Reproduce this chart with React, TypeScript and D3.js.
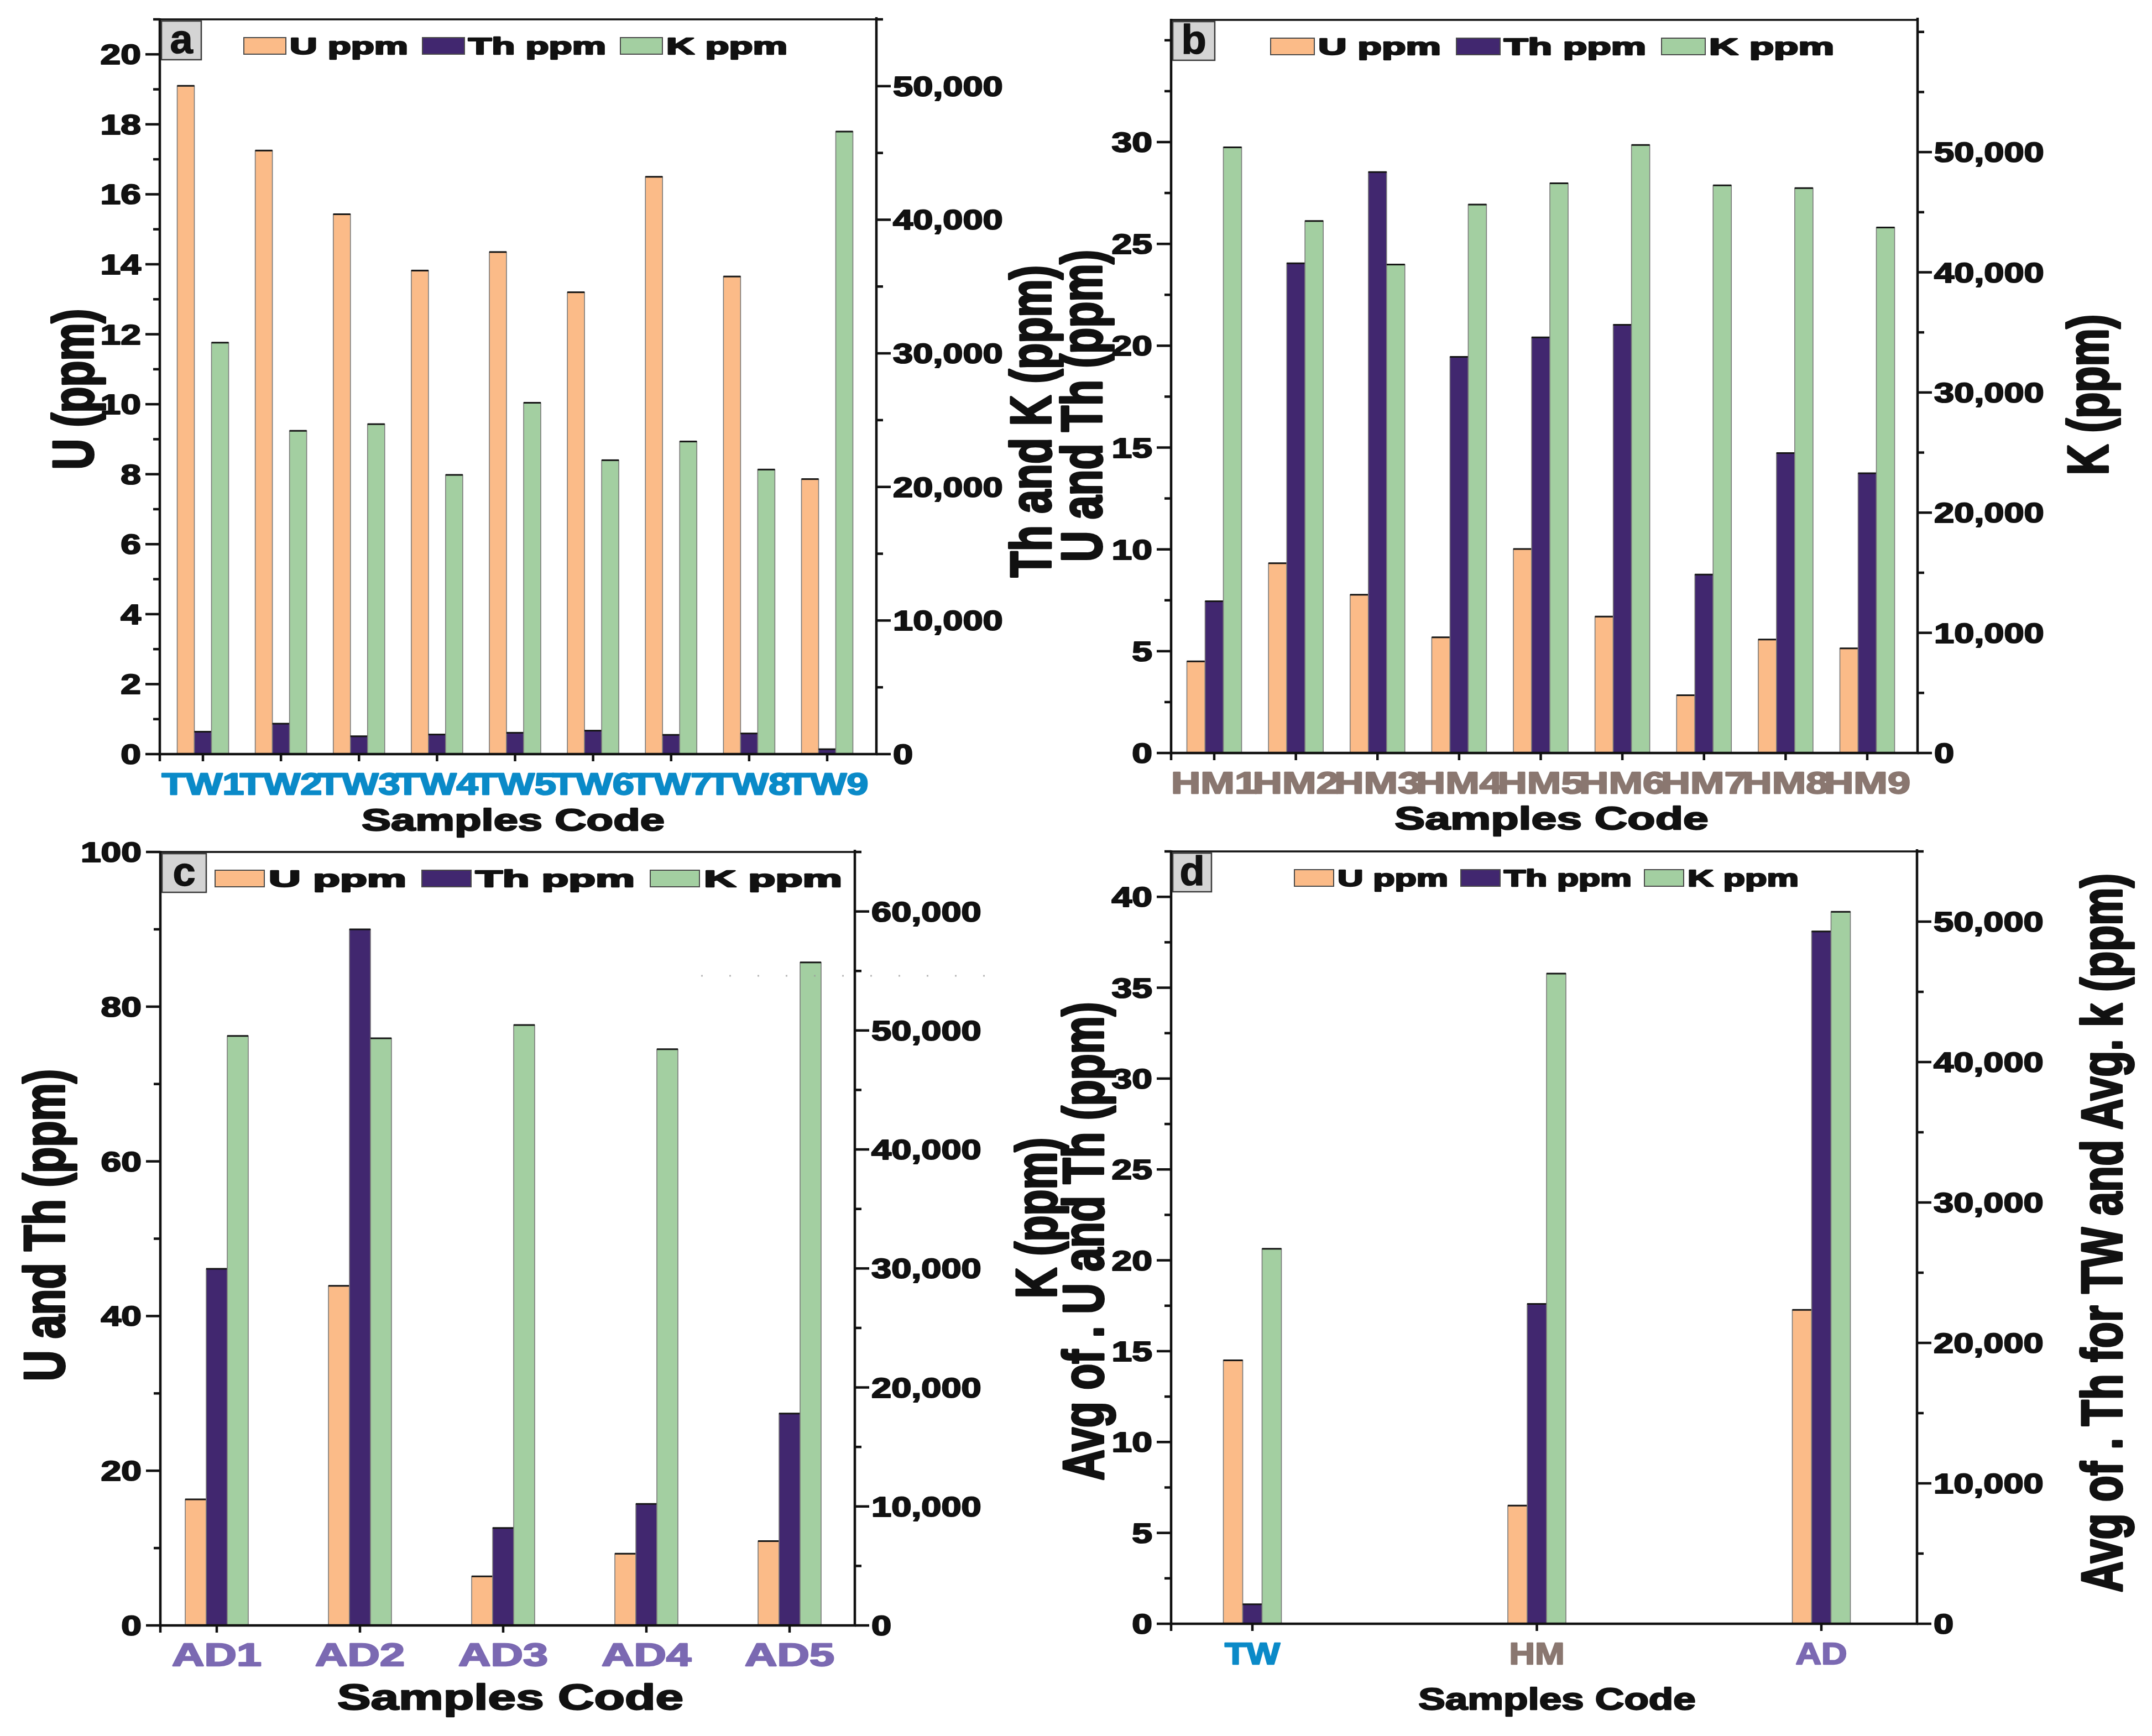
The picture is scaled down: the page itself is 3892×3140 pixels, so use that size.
import * as d3 from "d3";

// ---- data ----
const twCodes = ["TW1", "TW2", "TW3", "TW4", "TW5", "TW6", "TW7", "TW8", "TW9"];
const twU = [19.1, 17.25, 15.43, 13.82, 14.35, 13.2, 16.5, 13.65, 7.86];
const twTh = [0.64, 0.87, 0.51, 0.56, 0.61, 0.67, 0.55, 0.59, 0.14];
const twK = [30800, 24200, 24700, 20900, 26300, 22000, 23400, 21300, 46600];

const hmCodes = ["HM1", "HM2", "HM3", "HM4", "HM5", "HM6", "HM7", "HM8", "HM9"];
const hmU = [4.5, 9.32, 7.77, 5.68, 10.02, 6.7, 2.84, 5.57, 5.14];
const hmTh = [7.45, 24.05, 28.53, 19.45, 20.41, 21.03, 8.76, 14.73, 13.74];
const hmK = [50400, 44270, 40640, 45640, 47410, 50590, 47230, 47000, 43730];

const adCodes = ["AD1", "AD2", "AD3", "AD4", "AD5"];
const adU = [16.3, 43.9, 6.35, 9.27, 10.9];
const adTh = [46.1, 90.0, 12.6, 15.7, 27.4];
const adK = [49540, 49340, 50460, 48420, 55720];

const avgCodes = ["TW", "HM", "AD"];
const avgU = [14.5, 6.5, 17.27];
const avgTh = [1.07, 17.6, 38.1];
const avgK = [26700, 46300, 50700];

const aLeftTicks = [0, 2, 4, 6, 8, 10, 12, 14, 16, 18, 20];
const bLeftTicks = [0, 5, 10, 15, 20, 25, 30];
const cLeftTicks = [0, 20, 40, 60, 80, 100];
const dLeftTicks = [0, 5, 10, 15, 20, 25, 30, 35, 40];
const kTicks50 = [0, 10000, 20000, 30000, 40000, 50000];
const kTicks60 = [0, 10000, 20000, 30000, 40000, 50000, 60000];

const seriesNames = ["U ppm", "Th ppm", "K ppm"];

const U_COLOR = "#fbbb88";
const TH_COLOR = "#41276f";
const K_COLOR = "#a3cfa1";
const COLORS = [U_COLOR, TH_COLOR, K_COLOR];

const FONT = "'Liberation Sans', Arial, Helvetica, sans-serif";
const INK = "#111";

type Legend = { x: number; sw: number; tw: number[]; g1: number; g2: number };

interface PanelCfg {
  letter: string;
  box: number;
  left: number;
  right: number;
  top: number;
  bottom: number;
  padL: number;
  padR: number;
  barW: number;
  cats: string[];
  u: number[];
  th: number[];
  k: number[];
  leftDomain: [number, number];
  rightDomain: [number, number];
  leftTicks: number[];
  leftMinor: number[];
  rightTicks: number[];
  rightMinor: number[];
  catColor: string;
  catSize: number;
  catSx: number;
  titleX: number;
  titleDy: number;
  titleSize: number;
  titleSx: number;
  legend: Legend;
}

const panels: PanelCfg[] = [
  {
    letter: "a", box: 72,
    left: 289, right: 1585, top: 35, bottom: 1364, padL: 78, padR: 89, barW: 31,
    cats: twCodes, u: twU, th: twTh, k: twK,
    leftDomain: [0, 21], rightDomain: [0, 55000],
    leftTicks: aLeftTicks, leftMinor: d3.range(1, 22, 2),
    rightTicks: kTicks50, rightMinor: d3.range(5000, 55001, 10000),
    catColor: "#0a8ac8", catSize: 56, catSx: 1.26,
    titleX: 928, titleDy: 138, titleSize: 56, titleSx: 1.42,
    legend: { x: 441, sw: 76, tw: [214, 249, 219], g1: 7, g2: 26 },
  },
  {
    letter: "b", box: 76,
    left: 2118, right: 3468, top: 36, bottom: 1362, padL: 78, padR: 91, barW: 33,
    cats: hmCodes, u: hmU, th: hmTh, k: hmK,
    leftDomain: [0, 36], rightDomain: [0, 61000],
    leftTicks: bLeftTicks, leftMinor: [...d3.range(2.5, 35, 5), 35],
    rightTicks: kTicks50, rightMinor: [...d3.range(5000, 55001, 10000), 60000],
    catColor: "#8a7770", catSize: 56, catSx: 1.32,
    titleX: 2806, titleDy: 138, titleSize: 58, titleSx: 1.42,
    legend: { x: 2298, sw: 79, tw: [222, 257, 226], g1: 7, g2: 28 },
  },
  {
    letter: "c", box: 80,
    left: 290, right: 1546, top: 1541, bottom: 2940, padL: 102, padR: 118, barW: 38,
    cats: adCodes, u: adU, th: adTh, k: adK,
    leftDomain: [0, 100], rightDomain: [0, 65000],
    leftTicks: cLeftTicks, leftMinor: d3.range(10, 100, 20),
    rightTicks: kTicks60, rightMinor: d3.range(5000, 65001, 10000),
    catColor: "#7b69b2", catSize: 57, catSx: 1.42,
    titleX: 923, titleDy: 152, titleSize: 64, titleSx: 1.42,
    legend: { x: 389, sw: 89, tw: [249, 288, 250], g1: 8, g2: 28 },
  },
  {
    letter: "d", box: 70,
    left: 2118, right: 3467, top: 1540, bottom: 2937, padL: 147, padR: 173, barW: 35,
    cats: avgCodes, u: avgU, th: avgTh, k: avgK,
    leftDomain: [0, 42.5], rightDomain: [0, 55000],
    leftTicks: dLeftTicks, leftMinor: d3.range(2.5, 43, 5),
    rightTicks: kTicks50, rightMinor: d3.range(5000, 55001, 10000),
    catColor: "#8a7770", catSize: 56, catSx: 1.15,
    titleX: 2816, titleDy: 155, titleSize: 56, titleSx: 1.3,
    legend: { x: 2341, sw: 71, tw: [200, 231, 201], g1: 7, g2: 23 },
  },
];

// the average panel colours each group label like its source panel
const avgLabelColors = ["#0a8ac8", "#8a7770", "#7b69b2"];

const yTitles = [
  { text: "U (ppm)", x: 130, y: 704 },
  { text: "Th and K (ppm)", x: 1862, y: 762 },
  { text: "U and Th (ppm)", x: 1954, y: 734 },
  { text: "K (ppm)", x: 3774, y: 714 },
  { text: "U and Th (ppm)", x: 78, y: 2216 },
  { text: "K (ppm)", x: 1872, y: 2203 },
  { text: "Avg of . U and Th (ppm)", x: 1957, y: 2245 },
  { text: "Avg of . Th for TW and Avg. k (ppm)", x: 3799, y: 2230 },
];

const fmtK = d3.format(",");

// the figure's type is heavier than Liberation Sans Bold, so strokes thicken it
const heavy = (color: string, w: number) => ({
  fill: color,
  stroke: color,
  strokeWidth: w,
  strokeLinejoin: "round" as const,
  paintOrder: "stroke",
});

function Panel({ cfg }: { cfg: PanelCfg }) {
  const x = d3
    .scalePoint<string>()
    .domain(cfg.cats)
    .range([cfg.left + cfg.padL, cfg.right - cfg.padR]);
  const yL = d3.scaleLinear().domain(cfg.leftDomain).range([cfg.bottom, cfg.top]);
  const yR = d3.scaleLinear().domain(cfg.rightDomain).range([cfg.bottom, cfg.top]);

  const series = [
    { values: cfg.u, scale: yL },
    { values: cfg.th, scale: yL },
    { values: cfg.k, scale: yR },
  ];

  const tickW = 4.5;
  const major = 26;
  const minor = 12;

  // legend layout
  const lg = cfg.legend;
  let cursor = lg.x;
  const legendItems = seriesNames.map((name, i) => {
    const sx = cursor;
    const tx = sx + lg.sw + lg.g1;
    cursor = tx + lg.tw[i] + lg.g2;
    return { name, sx, tx, tw: lg.tw[i], color: COLORS[i] };
  });

  return (
    <g>
      {/* bars */}
      {series.map((s, si) =>
        cfg.cats.map((c, ci) => {
          const cx = x(c)!;
          const bx = cx + (si - 1.5) * cfg.barW;
          const by = s.scale(s.values[ci]);
          const h = cfg.bottom - by;
          return (
            <g key={`${si}-${c}`}>
              <rect
                x={bx}
                y={by}
                width={cfg.barW}
                height={h}
                fill={COLORS[si]}
                stroke="#7a7a7a"
                strokeWidth={1.6}
              />
              <line x1={bx} x2={bx + cfg.barW} y1={by} y2={by} stroke="#151515" strokeWidth={3} />
            </g>
          );
        })
      )}

      {/* frame */}
      <line x1={cfg.left} x2={cfg.right} y1={cfg.top} y2={cfg.top} stroke={INK} strokeWidth={3.5} />
      <line x1={cfg.left} x2={cfg.left} y1={cfg.top - 2} y2={cfg.bottom + 2} stroke={INK} strokeWidth={tickW} />
      <line x1={cfg.right} x2={cfg.right} y1={cfg.top - 4} y2={cfg.bottom + 2} stroke={INK} strokeWidth={tickW} />
      <line x1={cfg.left - 2} x2={cfg.right + 2} y1={cfg.bottom} y2={cfg.bottom} stroke={INK} strokeWidth={tickW} />

      {/* left axis */}
      {cfg.leftTicks.map((t) => (
        <g key={`lt${t}`}>
          <line x1={cfg.left - major} x2={cfg.left} y1={yL(t)} y2={yL(t)} stroke={INK} strokeWidth={tickW} />
          <text
            transform={`translate(${cfg.left - 34},${yL(t)}) scale(1.32,1)`}
            dy="0.36em"
            textAnchor="end"
            fontFamily={FONT}
            fontWeight="bold"
            fontSize={50}
            {...heavy(INK, 2.2)}
          >
            {t}
          </text>
        </g>
      ))}
      {cfg.leftMinor.map((t) => (
        <line key={`lm${t}`} x1={cfg.left - minor} x2={cfg.left} y1={yL(t)} y2={yL(t)} stroke={INK} strokeWidth={tickW} />
      ))}

      {/* right axis */}
      {cfg.rightTicks.map((t) => (
        <g key={`rt${t}`}>
          <line x1={cfg.right} x2={cfg.right + major} y1={yR(t)} y2={yR(t)} stroke={INK} strokeWidth={tickW} />
          <text
            transform={`translate(${cfg.right + 30},${yR(t)}) scale(1.3,1)`}
            dy="0.36em"
            textAnchor="start"
            fontFamily={FONT}
            fontWeight="bold"
            fontSize={50}
            {...heavy(INK, 2.2)}
          >
            {fmtK(t)}
          </text>
        </g>
      ))}
      {cfg.rightMinor.map((t) => (
        <line key={`rm${t}`} x1={cfg.right} x2={cfg.right + minor} y1={yR(t)} y2={yR(t)} stroke={INK} strokeWidth={tickW} />
      ))}

      {/* bottom axis */}
      <line x1={cfg.left} x2={cfg.left} y1={cfg.bottom} y2={cfg.bottom + 13} stroke={INK} strokeWidth={tickW} />
      {cfg.cats.map((c, ci) => {
        const col = cfg.cats === avgCodes ? avgLabelColors[ci] : cfg.catColor;
        return (
          <g key={`bx${c}`}>
            <line x1={x(c)!} x2={x(c)!} y1={cfg.bottom} y2={cfg.bottom + 13} stroke={INK} strokeWidth={tickW} />
            <text
              transform={`translate(${x(c)!},${cfg.bottom + 73}) scale(${cfg.catSx},1)`}
              textAnchor="middle"
              fontFamily={FONT}
              fontWeight="bold"
              fontSize={cfg.catSize}
              {...heavy(col, 2.4)}
            >
              {c}
            </text>
          </g>
        );
      })}
      <text
        transform={`translate(${cfg.titleX},${cfg.bottom + cfg.titleDy}) scale(${cfg.titleSx},1)`}
        textAnchor="middle"
        fontFamily={FONT}
        fontWeight="bold"
        fontSize={cfg.titleSize}
        {...heavy(INK, 2.4)}
      >
        Samples Code
      </text>

      {/* panel letter */}
      <rect
        x={cfg.left + 3}
        y={cfg.top + 3}
        width={cfg.box}
        height={70}
        fill="#d4d4d4"
        stroke="#3a3a3a"
        strokeWidth={2.5}
      />
      <text
        x={cfg.left + 3 + cfg.box / 2}
        y={cfg.top + 61}
        textAnchor="middle"
        fontFamily={FONT}
        fontWeight="bold"
        fontSize={74}
        {...heavy(INK, 1.5)}
      >
        {cfg.letter}
      </text>

      {/* legend */}
      {legendItems.map((it) => (
        <g key={it.name}>
          <rect
            x={it.sx}
            y={cfg.top + 33}
            width={lg.sw}
            height={30}
            fill={it.color}
            stroke="#4a4a4a"
            strokeWidth={2}
          />
          <text
            x={it.tx}
            y={cfg.top + 63}
            textLength={it.tw}
            lengthAdjust="spacingAndGlyphs"
            fontFamily={FONT}
            fontWeight="bold"
            fontSize={43}
            {...heavy(INK, 2.6)}
          >
            {it.name}
          </text>
        </g>
      ))}
    </g>
  );
}

export default function App() {
  return (
    <svg
      width={3892}
      height={3140}
      viewBox="0 0 3892 3140"
      style={{ position: "absolute", left: 0, top: 0, display: "block", background: "#fff" }}
    >
      <rect x={0} y={0} width={3892} height={3140} fill="#fff" />
      {panels.map((p) => (
        <Panel key={p.letter} cfg={p} />
      ))}

      {/* faint dotted artefact line in panel c */}
      <line
        x1={1268}
        x2={1822}
        y1={1765}
        y2={1765}
        stroke="#9a9a9a"
        strokeWidth={3}
        strokeDasharray="3 48"
        opacity={0.7}
      />

      {yTitles.map((t, i) => (
        <text
          key={i}
          transform={`translate(${t.x},${t.y}) scale(1.36,1) rotate(-90)`}
          dy="0.36em"
          textAnchor="middle"
          fontFamily={FONT}
          fontWeight="bold"
          fontSize={77}
          {...heavy(INK, 3)}
        >
          {t.text}
        </text>
      ))}
    </svg>
  );
}
